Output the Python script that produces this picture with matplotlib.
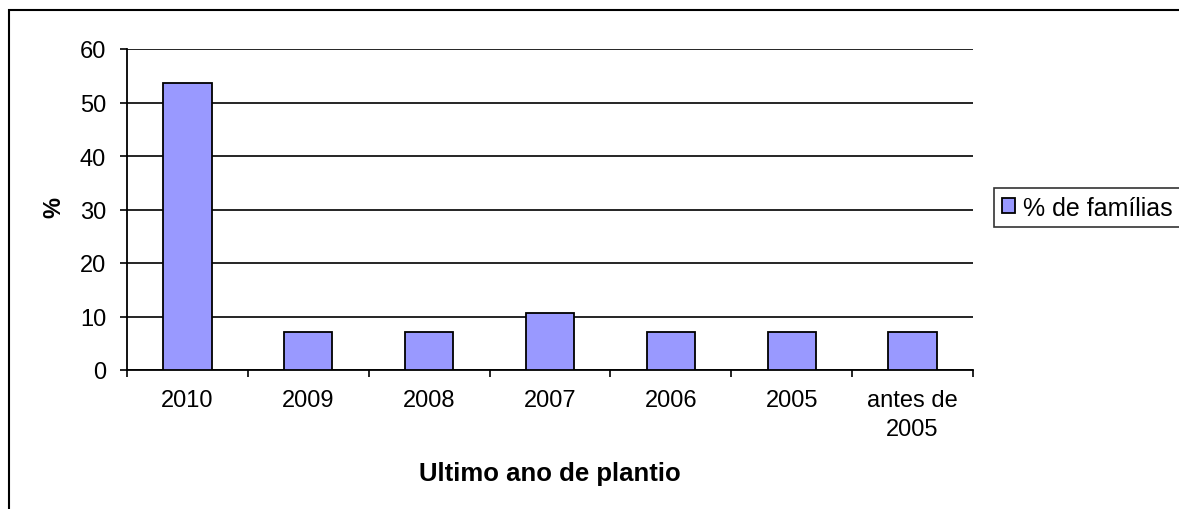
import matplotlib.pyplot as plt
from matplotlib.patches import Rectangle

plt.rcParams['font.family'] = ['Liberation Sans', 'DejaVu Sans']

# Data
categories = ['2010', '2009', '2008', '2007', '2006', '2005', 'antes de\n2005']
familias = [53.6, 7.1, 7.1, 10.7, 7.1, 7.1, 7.1]

W, H = 1179, 510
fig = plt.figure(figsize=(W / 100, H / 100), dpi=100)
ax = fig.add_axes([127 / W, 1 - 371 / H, 846 / W, 321 / H])

x = range(len(categories))
ax.bar(x, familias, width=0.4, color='#9999ff', edgecolor='black',
       linewidth=1.3, label='% de famílias', zorder=3)

ax.set_xlim(-0.5, len(categories) - 0.5)
ax.set_ylim(0, 60)
ax.set_yticks(range(0, 61, 10))
ax.yaxis.grid(True, color='black', linewidth=1.2, zorder=0)

# category boundaries as major ticks, labels centred as minor ticks
ax.set_xticks([i - 0.5 for i in range(len(categories) + 1)])
ax.set_xticklabels([])
ax.set_xticks(list(x), minor=True)
ax.set_xticklabels(categories, minor=True, fontsize=17, linespacing=1.4)
ax.tick_params(axis='x', which='minor', length=0, pad=14)
ax.tick_params(axis='x', which='major', length=5, width=1.2, direction='out')
ax.tick_params(axis='y', length=5, width=1.2, labelsize=17, pad=10)

for side in ['top', 'right']:
    ax.spines[side].set_visible(False)
for side in ['left', 'bottom']:
    ax.spines[side].set_linewidth(1.3)

fig.text(54 / W, 1 - 208 / H, '%', rotation=90, fontsize=17,
         fontweight='bold', ha='center', va='center')
fig.text(550 / W, 1 - 481 / H, 'Ultimo ano de plantio', fontsize=18.5,
         fontweight='bold', ha='center', va='baseline')

leg = ax.legend(loc='upper left', bbox_to_anchor=(994 / W, 1 - 189 / H),
                bbox_transform=fig.transFigure,
                fontsize=18, frameon=True, fancybox=False, borderaxespad=0,
                handlelength=0.55, handleheight=0.55, handletextpad=0.3,
                borderpad=0.3)
leg.get_frame().set_edgecolor('black')
leg.get_frame().set_linewidth(1.2)

# outer chart frame
fig.patches.append(Rectangle((9 / W, -0.1), 1.2, 1 - 11 / H + 0.1,
                             transform=fig.transFigure, fill=False,
                             edgecolor='black', linewidth=1.5))

fig.savefig('out.png', dpi=100)
